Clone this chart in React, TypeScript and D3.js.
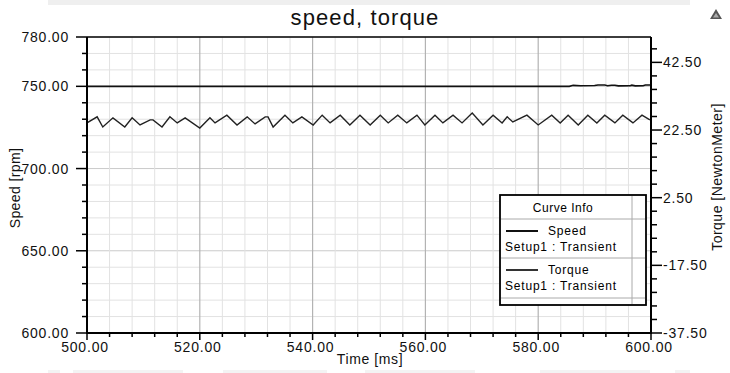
import React from "react";
import * as d3 from "d3";

const timeTicks = [500, 520, 540, 560, 580, 600];
const speedTicks = [600, 650, 700, 750, 780];
const torqueTicks = [42.5, 22.5, 2.5, -17.5, -37.5];

const speedT = [500, 585.5, 586.2, 587.5, 590, 590.6, 591.8, 592.3, 593, 593.6, 594.2, 596.3, 596.6, 597.2, 598.6, 599, 600];
const speedV = [750, 750, 750.6, 750.4, 750.5, 750.8, 750.8, 750.4, 750.7, 750.7, 750.3, 750.4, 750.7, 750.3, 750.4, 750.8, 750.8];

const torqueT = [
  500, 501.8, 502.8, 504.6, 506.7, 508.0, 509.4, 511.2, 511.7, 513.3, 514.7, 516.0, 517.4, 520.0, 521.8, 522.7, 524.8,
  526.6, 528.4, 529.8, 531.6, 532.1, 533.0, 535.1, 536.5, 538.1, 540.1, 541.7, 543.1, 544.9, 546.6, 548.4, 550.2,
  552.0, 553.4, 555.1, 556.7, 558.5, 559.9, 561.7, 563.1, 564.9, 566.5, 568.3, 570.2, 572.0, 573.6, 574.5,
  575.5, 578.0, 580.0, 582.4, 583.9, 585.3, 587.1, 588.8, 590.4, 591.8, 593.6, 595.0, 596.8, 598.4, 599.8,
];
const torqueV = [
  24.6, 26.4, 23.4, 26.1, 23.4, 26.1, 24.0, 25.5, 25.5, 23.4, 26.4, 24.6, 26.1, 23.1, 26.1, 24.6, 26.9,
  24.0, 26.4, 24.3, 26.4, 26.4, 23.4, 26.9, 24.6, 26.4, 24.0, 26.9, 24.6, 26.9, 24.0, 26.9, 24.0,
  26.9, 24.6, 26.9, 24.6, 26.9, 24.0, 26.9, 24.6, 26.9, 24.6, 27.5, 24.0, 26.9, 24.6, 26.4,
  24.9, 26.9, 24.0, 26.9, 24.6, 26.9, 24.0, 26.9, 24.6, 26.9, 24.6, 26.9, 24.6, 26.9, 25.5,
];

const legendNames = ["Speed", "Torque"];
const legendSub = "Setup1 : Transient";

export default function App() {
  const W = 730, H = 373;
  const L = 87, R = 651, T = 37, B = 333;
  const x = d3.scaleLinear().domain([500, 600]).range([L, R]);
  const yL = d3.scaleLinear().domain([600, 780]).range([B, T]);
  const yR = d3.scaleLinear().domain([-37.5, 50]).range([B, T]);

  const xMinor = d3.range(500, 600.001, 4);
  const yMinor = d3.range(600, 780.001, 10);
  const rMinor = d3.range(-37.5, 50, 4);

  const speedLine = d3.line<number>().x((_, i) => x(speedT[i])).y((v) => yL(v));
  const torqueLine = d3.line<number>().x((_, i) => x(torqueT[i])).y((v) => yR(v));

  const font = "Liberation Sans, Arial, sans-serif";
  const tickFont = { fontFamily: font, fontSize: 14, letterSpacing: 0.8, fill: "#111" } as const;
  const isMajorX = (v: number) => Math.abs(((v - 500) % 20)) < 1e-6 && v > 500 && v < 600;
  const isMajorY = (v: number) => v === 650 || v === 700 || v === 750;

  return (
    <svg width={W} height={H} style={{ position: "absolute", left: 0, top: 0, background: "#fff" }}>
      <defs>
        <clipPath id="plot">
          <rect x={L} y={T} width={R - L} height={B - T} />
        </clipPath>
      </defs>
      <rect x={48} y={0} width={642} height={5} fill="#efefef" />
      {[[48, 12], [73, 110], [223, 104], [365, 110], [540, 110], [675, 15]].map(([a, w], i) => (
        <rect key={i} x={a} y={370} width={w} height={3} fill="#f3f3f3" />
      ))}
      <path d="M716,9 L722,19 L710,19 Z" fill="#555" />
      <path d="M716,13 L719,17.5 L713,17.5 Z" fill="#aaa" />

      {yMinor.map((v) => (
        <line key={"gy" + v} x1={L} x2={R} y1={yL(v)} y2={yL(v)} stroke={isMajorY(v) ? "#cacaca" : "#e2e2e2"} strokeWidth={1} />
      ))}
      {xMinor.map((v) => (
        <line key={"gx" + v} x1={x(v)} x2={x(v)} y1={T} y2={B} stroke={isMajorX(v) ? "#b3b3b3" : "#e2e2e2"} strokeWidth={isMajorX(v) ? 1.2 : 1} />
      ))}

      <g clipPath="url(#plot)">
        <path d={speedLine(speedV) || ""} fill="none" stroke="#111" strokeWidth={1.6} />
        <path d={torqueLine(torqueV) || ""} fill="none" stroke="#222" strokeWidth={1.4} />
      </g>

      <line x1={L} x2={R} y1={T} y2={T} stroke="#000" strokeWidth={1.5} />
      <line x1={L} x2={L} y1={T} y2={B + 1} stroke="#000" strokeWidth={2} />
      <line x1={R} x2={R} y1={T} y2={B + 1} stroke="#000" strokeWidth={2} />
      <line x1={L} x2={R} y1={B} y2={B} stroke="#000" strokeWidth={2} />

      {yMinor.map((v) => (
        <line key={"ly" + v} x1={L - (speedTicks.includes(v) ? 11 : 5)} x2={L} y1={yL(v)} y2={yL(v)} stroke="#000" strokeWidth={1.5} />
      ))}
      {speedTicks.map((v) => (
        <text key={"lt" + v} x={69} y={yL(v)} dy="0.36em" textAnchor="end" {...tickFont}>
          {v.toFixed(2)}
        </text>
      ))}

      {xMinor.map((v) => (
        <line key={"bx" + v} x1={x(v)} x2={x(v)} y1={B} y2={B + (timeTicks.includes(v) ? 7 : 4)} stroke="#000" strokeWidth={1.5} />
      ))}
      {timeTicks.map((v) => (
        <text key={"bt" + v} x={x(v) - 2} y={352} textAnchor="middle" {...tickFont}>
          {v.toFixed(2)}
        </text>
      ))}

      {rMinor.map((v) => (
        <line key={"ry" + v} x1={R} x2={R + (torqueTicks.some((t) => Math.abs(t - v) < 1e-6) ? 11 : 6)} y1={yR(v)} y2={yR(v)} stroke="#000" strokeWidth={1.5} />
      ))}
      {torqueTicks.map((v) => (
        <text key={"rt" + v} x={663} y={yR(v)} dy="0.36em" textAnchor="start" {...tickFont}>
          {v.toFixed(2)}
        </text>
      ))}

      <text x={365} y={25} textAnchor="middle" fontFamily={font} fontSize={22} letterSpacing={1.1} fill="#111">
        speed, torque
      </text>
      <text x={370} y={364} textAnchor="middle" fontFamily={font} fontSize={14} letterSpacing={0.6} fill="#111">
        Time [ms]
      </text>
      <text transform="translate(20,188) rotate(-90)" textAnchor="middle" fontFamily={font} fontSize={14} letterSpacing={0.4} fill="#111">
        Speed [rpm]
      </text>
      <text transform="translate(722,177) rotate(-90)" textAnchor="middle" fontFamily={font} fontSize={14} letterSpacing={0.5} fill="#111">
        Torque  [NewtonMeter]
      </text>

      <g>
        <rect x={500} y={195} width={146} height={110} fill="#fff" stroke="#000" strokeWidth={1.8} />
        <line x1={632} x2={632} y1={196} y2={304} stroke="#aaa" strokeWidth={1} />
        {[219, 258, 298].map((yy) => (
          <line key={yy} x1={501} x2={645} y1={yy} y2={yy} stroke="#aaa" strokeWidth={1} />
        ))}
        <text x={563} y={208} dy="0.36em" textAnchor="middle" fontFamily={font} fontSize={12} letterSpacing={0.5} fill="#000">
          Curve Info
        </text>
        {legendNames.map((n, i) => {
          const y0 = 231 + i * 39;
          return (
            <g key={n}>
              <line x1={506} x2={538} y1={y0} y2={y0} stroke={i === 0 ? "#111" : "#333"} strokeWidth={2} />
              <text x={548} y={y0} dy="0.36em" fontFamily={font} fontSize={12} letterSpacing={0.8} fill="#000">
                {n}
              </text>
              <text x={505} y={y0 + 16} dy="0.36em" fontFamily={font} fontSize={12} letterSpacing={0.8} fill="#000">
                {legendSub}
              </text>
            </g>
          );
        })}
      </g>
    </svg>
  );
}
